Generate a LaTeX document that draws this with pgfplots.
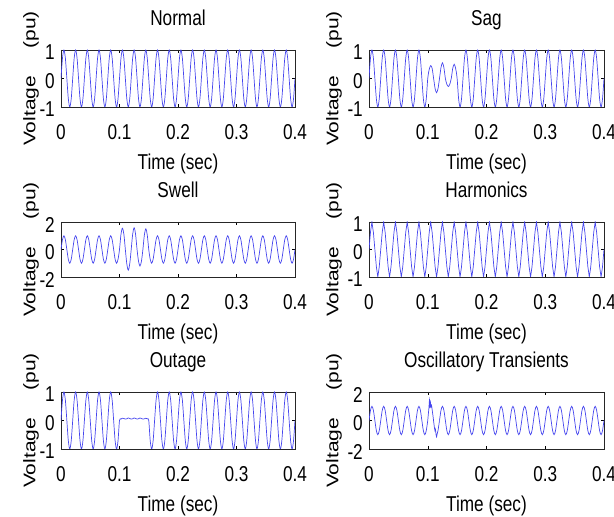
\documentclass[border=0pt]{standalone}
\usepackage{pgfplots}
\pgfplotsset{compat=1.18}
\usepackage{pgfplotstable}
\usepackage{fontspec}
\setmainfont{Liberation Sans}[FakeStretch=0.8]
\newfontfamily\ylfont{Liberation Sans}
\definecolor{wave}{RGB}{70,70,238}
% t normal sag swell harmonics outage
\pgfplotstableread{
t n s w h o
0 0 0 0 0 0
0.0025 0.707 0.707 0.707 0.62 0.707
0.005 1 1 1 1 1
0.0075 0.707 0.707 0.707 0.62 0.707
0.01 0 0 0 0 0
0.0125 -0.707 -0.707 -0.707 -0.62 -0.707
0.015 -1 -1 -1 -1 -1
0.0175 -0.707 -0.707 -0.707 -0.62 -0.707
0.02 0 0 0 0 0
0.0225 0.707 0.707 0.707 0.62 0.707
0.025 1 1 1 1 1
0.0275 0.707 0.707 0.707 0.62 0.707
0.03 0 0 0 0 0
0.0325 -0.707 -0.707 -0.707 -0.62 -0.707
0.035 -1 -1 -1 -1 -1
0.0375 -0.707 -0.707 -0.707 -0.62 -0.707
0.04 0 0 0 0 0
0.0425 0.707 0.707 0.707 0.62 0.707
0.045 1 1 1 1 1
0.0475 0.707 0.707 0.707 0.62 0.707
0.05 0 0 0 0 0
0.0525 -0.707 -0.707 -0.707 -0.62 -0.707
0.055 -1 -1 -1 -1 -1
0.0575 -0.707 -0.707 -0.707 -0.62 -0.707
0.06 0 0 0 0 0
0.0625 0.707 0.707 0.707 0.62 0.707
0.065 1 1 1 1 1
0.0675 0.707 0.707 0.707 0.62 0.707
0.07 0 0 0 0 0
0.0725 -0.707 -0.707 -0.707 -0.62 -0.707
0.075 -1 -1 -1 -1 -1
0.0775 -0.707 -0.707 -0.707 -0.62 -0.707
0.08 0 0 0 0 0
0.0825 0.707 0.707 0.707 0.62 0.707
0.085 1 1 1 1 1
0.0875 0.707 0.707 0.707 0.62 0.707
0.09 0 0 0 0 0
0.0925 -0.707 -0.707 -0.707 -0.62 -0.707
0.095 -1 -1 -1 -1 -1
0.0975 -0.707 -0.707 -0.707 -0.62 -0.707
0.1 0 0 0 0 0
0.1025 0.707 0.32 1.1 0.62 0.05
0.105 1 0.45 1.55 1 0.08
0.1075 0.707 0.35 1.1 0.62 0.07
0.11 0 0 0 0 0.05
0.1125 -0.707 -0.35 -1.05 -0.62 0.06
0.115 -1 -0.5 -1.5 -1 0.09
0.1175 -0.707 -0.35 -1.05 -0.62 0.07
0.12 0 0 0 0 0.05
0.1225 0.707 0.38 1.1 0.62 0.06
0.125 1 0.55 1.58 1 0.09
0.1275 0.707 0.38 1.1 0.62 0.07
0.13 0 0 0 0 0.05
0.1325 -0.707 -0.2 -0.85 -0.62 0.06
0.135 -1 -0.28 -1.2 -1 0.09
0.1375 -0.707 -0.2 -0.85 -0.62 0.07
0.14 0 0 0 0 0.05
0.1425 0.707 0.35 1.05 0.62 0.06
0.145 1 0.5 1.5 1 0.08
0.1475 0.707 0.35 1.05 0.62 0.06
0.15 0 0 0 0 0
0.1525 -0.707 -0.707 -0.707 -0.62 -0.707
0.155 -1 -1 -1 -1 -1
0.1575 -0.707 -0.707 -0.707 -0.62 -0.707
0.16 0 0 0 0 0
0.1625 0.707 0.707 0.707 0.62 0.707
0.165 1 1 1 1 1
0.1675 0.707 0.707 0.707 0.62 0.707
0.17 0 0 0 0 0
0.1725 -0.707 -0.707 -0.707 -0.62 -0.707
0.175 -1 -1 -1 -1 -1
0.1775 -0.707 -0.707 -0.707 -0.62 -0.707
0.18 0 0 0 0 0
0.1825 0.707 0.707 0.707 0.62 0.707
0.185 1 1 1 1 1
0.1875 0.707 0.707 0.707 0.62 0.707
0.19 0 0 0 0 0
0.1925 -0.707 -0.707 -0.707 -0.62 -0.707
0.195 -1 -1 -1 -1 -1
0.1975 -0.707 -0.707 -0.707 -0.62 -0.707
0.2 0 0 0 0 0
0.2025 0.707 0.707 0.707 0.62 0.707
0.205 1 1 1 1 1
0.2075 0.707 0.707 0.707 0.62 0.707
0.21 0 0 0 0 0
0.2125 -0.707 -0.707 -0.707 -0.62 -0.707
0.215 -1 -1 -1 -1 -1
0.2175 -0.707 -0.707 -0.707 -0.62 -0.707
0.22 0 0 0 0 0
0.2225 0.707 0.707 0.707 0.62 0.707
0.225 1 1 1 1 1
0.2275 0.707 0.707 0.707 0.62 0.707
0.23 0 0 0 0 0
0.2325 -0.707 -0.707 -0.707 -0.62 -0.707
0.235 -1 -1 -1 -1 -1
0.2375 -0.707 -0.707 -0.707 -0.62 -0.707
0.24 0 0 0 0 0
0.2425 0.707 0.707 0.707 0.62 0.707
0.245 1 1 1 1 1
0.2475 0.707 0.707 0.707 0.62 0.707
0.25 0 0 0 0 0
0.2525 -0.707 -0.707 -0.707 -0.62 -0.707
0.255 -1 -1 -1 -1 -1
0.2575 -0.707 -0.707 -0.707 -0.62 -0.707
0.26 0 0 0 0 0
0.2625 0.707 0.707 0.707 0.62 0.707
0.265 1 1 1 1 1
0.2675 0.707 0.707 0.707 0.62 0.707
0.27 0 0 0 0 0
0.2725 -0.707 -0.707 -0.707 -0.62 -0.707
0.275 -1 -1 -1 -1 -1
0.2775 -0.707 -0.707 -0.707 -0.62 -0.707
0.28 0 0 0 0 0
0.2825 0.707 0.707 0.707 0.62 0.707
0.285 1 1 1 1 1
0.2875 0.707 0.707 0.707 0.62 0.707
0.29 0 0 0 0 0
0.2925 -0.707 -0.707 -0.707 -0.62 -0.707
0.295 -1 -1 -1 -1 -1
0.2975 -0.707 -0.707 -0.707 -0.62 -0.707
0.3 0 0 0 0 0
0.3025 0.707 0.707 0.707 0.62 0.707
0.305 1 1 1 1 1
0.3075 0.707 0.707 0.707 0.62 0.707
0.31 0 0 0 0 0
0.3125 -0.707 -0.707 -0.707 -0.62 -0.707
0.315 -1 -1 -1 -1 -1
0.3175 -0.707 -0.707 -0.707 -0.62 -0.707
0.32 0 0 0 0 0
0.3225 0.707 0.707 0.707 0.62 0.707
0.325 1 1 1 1 1
0.3275 0.707 0.707 0.707 0.62 0.707
0.33 0 0 0 0 0
0.3325 -0.707 -0.707 -0.707 -0.62 -0.707
0.335 -1 -1 -1 -1 -1
0.3375 -0.707 -0.707 -0.707 -0.62 -0.707
0.34 0 0 0 0 0
0.3425 0.707 0.707 0.707 0.62 0.707
0.345 1 1 1 1 1
0.3475 0.707 0.707 0.707 0.62 0.707
0.35 0 0 0 0 0
0.3525 -0.707 -0.707 -0.707 -0.62 -0.707
0.355 -1 -1 -1 -1 -1
0.3575 -0.707 -0.707 -0.707 -0.62 -0.707
0.36 0 0 0 0 0
0.3625 0.707 0.707 0.707 0.62 0.707
0.365 1 1 1 1 1
0.3675 0.707 0.707 0.707 0.62 0.707
0.37 0 0 0 0 0
0.3725 -0.707 -0.707 -0.707 -0.62 -0.707
0.375 -1 -1 -1 -1 -1
0.3775 -0.707 -0.707 -0.707 -0.62 -0.707
0.38 0 0 0 0 0
0.3825 0.707 0.707 0.707 0.62 0.707
0.385 1 1 1 1 1
0.3875 0.707 0.707 0.707 0.62 0.707
0.39 0 0 0 0 0
0.3925 -0.707 -0.707 -0.707 -0.62 -0.707
0.395 -1 -1 -1 -1 -1
0.3975 -0.707 -0.707 -0.707 -0.62 -0.707
0.4 0 0 0 0 0
}\pqdata

\newcommand{\fs}{\fontsize{21.5}{25}\selectfont}
\newcommand{\yfs}{\ylfont\fontsize{21}{25}\selectfont}
\pgfplotsset{
  pq/.style={
    anchor=south west,
    scale only axis, width=234pt, height=57pt,
    xmin=0, xmax=0.4, ymin=-1, ymax=1,
    xtick={0,0.1,0.2,0.3,0.4}, xticklabels={0,0.1,0.2,0.3,0.4},
    ytick={-1,0,1}, yticklabels={-1,0,1},
    tick align=inside, major tick length=3pt,
    every tick/.style={black, line width=0.4pt},
    axis line style={black!85, line width=0.7pt},
    tick label style={font=\fs, inner sep=0pt},
    xticklabel style={anchor=base, yshift=-33pt},
    yticklabel style={anchor=east, xshift=-6pt, yshift=-2.5pt},
    xlabel={Time (sec)},
    xlabel style={font=\fs, at={(axis description cs:0.5,0)}, anchor=base, yshift=-63pt},
    ylabel={Voltage\hspace{1.3em}(pu)},
    title style={font=\fs, at={(axis description cs:0.5,1)}, anchor=base, yshift=18pt},
    every axis plot/.append style={wave, line width=0.7pt, no marks},
  },
  lefty/.style={ylabel style={font=\yfs, at={(axis description cs:-0.128,0.5)}, anchor=center, yscale=0.8}},
  righty/.style={ylabel style={font=\yfs, at={(axis description cs:-0.149,0.5)}, anchor=center, yscale=0.8}},
  big/.style={ymin=-2, ymax=2, ytick={-2,0,2}, yticklabels={-2,0,2}},
}

\begin{document}
\begin{tikzpicture}
\useasboundingbox (0,0) rectangle (614pt,517pt);

\begin{axis}[pq, lefty, at={(61pt,410pt)}, title={Normal}]
\addplot[smooth] table[x=t, y=n] {\pqdata};
\end{axis}

\begin{axis}[pq, righty, width=235pt, at={(369pt,410pt)}, title={Sag}]
\addplot[smooth] table[x=t, y=s] {\pqdata};
\end{axis}

\begin{axis}[pq, big, lefty, height=55pt, at={(61pt,240pt)}, title={Swell}]
\addplot[smooth] table[x=t, y=w] {\pqdata};
\end{axis}

\begin{axis}[pq, righty, width=235pt, height=55pt, at={(369pt,240pt)}, title={Harmonics}]
\addplot[sharp plot, mark=*, mark size=0.6pt] table[x=t, y=h] {\pqdata};
\end{axis}

\begin{axis}[pq, lefty, at={(61pt,68pt)}, title={Outage}]
\addplot[smooth] table[x=t, y=o] {\pqdata};
\end{axis}

\begin{axis}[pq, big, righty, width=235pt, at={(369pt,68pt)}, title={Oscillatory Transients}]
\addplot[smooth, restrict x to domain=0:0.1001] table[x=t, y=n] {\pqdata};
\addplot[smooth, restrict x to domain=0.1199:0.4] table[x=t, y=n] {\pqdata};
\addplot[smooth] coordinates {(0.1,0) (0.101,0.45) (0.102,0.9) (0.103,1.45) (0.1038,1.0) (0.1045,1.3) (0.1055,0.95) (0.1065,1.05) (0.1075,0.75) (0.109,0.3) (0.11,-0.05) (0.1112,-0.45) (0.1122,-0.7) (0.113,-0.6) (0.114,-0.95) (0.115,-1.15) (0.116,-0.95) (0.1175,-0.7) (0.12,0)};
\end{axis}
\end{tikzpicture}
\end{document}
